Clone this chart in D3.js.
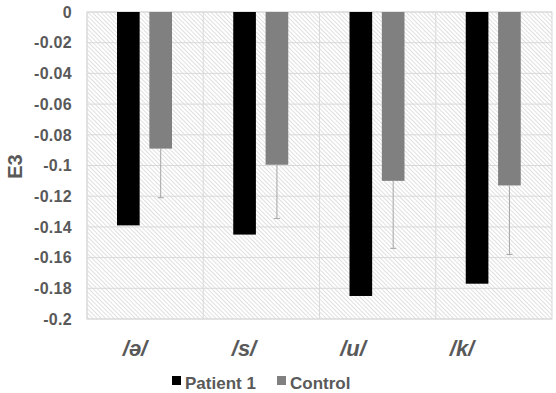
<!DOCTYPE html>
<html>
<head>
<meta charset="utf-8">
<script src="https://cdn.jsdelivr.net/npm/d3@7"></script>
<style>
  body { margin: 0; background: #fff; }
  text { font-family: Arial, "Liberation Sans", sans-serif; }
</style>
</head>
<body>
<div id="chart"></div>
<script>
// data
var categories = ["/ə/", "/s/", "/u/", "/k/"];
var seriesNames = ["Patient 1", "Control"];
var patientValues = [-0.139, -0.145, -0.185, -0.177];
var controlValues = [-0.089, -0.0995, -0.110, -0.113];
var controlErrors = [0.032, 0.035, 0.044, 0.045];
var yTicks = [0, -0.02, -0.04, -0.06, -0.08, -0.1, -0.12, -0.14, -0.16, -0.18, -0.2];
var yTickLabels = ["0", "-0.02", "-0.04", "-0.06", "-0.08", "-0.1", "-0.12", "-0.14", "-0.16", "-0.18", "-0.2"];

var width = 556, height = 393;
var margin = {top: 12, right: 4, bottom: 74, left: 87};
var innerW = width - margin.left - margin.right;
var innerH = height - margin.top - margin.bottom;
var colors = ["#000000", "#808080"];

var svg = d3.select("#chart").append("svg")
	.attr("width", width)
	.attr("height", height);

// hatched plot background
var defs = svg.append("defs");
var pat = defs.append("pattern")
	.attr("id", "hatch")
	.attr("patternUnits", "userSpaceOnUse")
	.attr("width", 3)
	.attr("height", 3)
	.attr("patternTransform", "rotate(-45)");
pat.append("rect").attr("width", 3).attr("height", 3).attr("fill", "#ffffff");
pat.append("line")
	.attr("x1", 0).attr("y1", 0).attr("x2", 0).attr("y2", 3)
	.attr("stroke", "#cfcfcf")
	.attr("stroke-width", 1.3);

var g = svg.append("g").attr("transform", "translate(" + margin.left + "," + margin.top + ")");

var y = d3.scaleLinear().domain([0, -0.2]).range([0, innerH]);
var x0 = d3.scaleBand().domain(categories).range([0, innerW]).padding(0);
var x1 = d3.scaleBand().domain(seriesNames).range([30, 85]).paddingInner(0.3);

g.append("rect")
	.attr("width", innerW)
	.attr("height", innerH)
	.attr("fill", "url(#hatch)")
	.attr("stroke", "#d9d9d9");

// horizontal grid
g.selectAll(".hgrid")
	.data(yTicks)
	.enter().append("line")
	.attr("x1", 0).attr("x2", innerW)
	.attr("y1", function(d) { return y(d); })
	.attr("y2", function(d) { return y(d); })
	.attr("stroke", "#d9d9d9")
	.attr("stroke-width", 1);

// vertical category separators
g.selectAll(".vgrid")
	.data(categories)
	.enter().append("line")
	.attr("x1", function(d) { return x0(d); })
	.attr("x2", function(d) { return x0(d); })
	.attr("y1", 0).attr("y2", innerH)
	.attr("stroke", "#d9d9d9");

// y tick labels, placed with the y scale
g.selectAll(".ytick")
	.data(yTicks)
	.enter().append("text")
	.attr("class", "ytick")
	.attr("x", -15)
	.attr("y", function(d) { return y(d); })
	.attr("dy", "0.36em")
	.attr("text-anchor", "end")
	.attr("font-size", 16)
	.attr("font-weight", "bold")
	.attr("letter-spacing", 0.3)
	.attr("fill", "#595959")
	.text(function(d, i) { return yTickLabels[i]; });

svg.append("text")
	.attr("transform", "translate(22," + (margin.top + innerH / 2 + 1) + ") rotate(-90)")
	.attr("text-anchor", "middle")
	.attr("font-size", 20)
	.attr("font-weight", "bold")
	.attr("fill", "#595959")
	.text("E3");

// bars
var rows = categories.map(function(c, i) {
	return {cat: c, vals: [patientValues[i], controlValues[i]], err: controlErrors[i]};
});

var groups = g.selectAll(".grp")
	.data(rows)
	.enter().append("g")
	.attr("transform", function(d) { return "translate(" + x0(d.cat) + ",0)"; });

groups.selectAll("rect")
	.data(function(d) { return d.vals.map(function(v, j) { return {name: seriesNames[j], v: v, j: j}; }); })
	.enter().append("rect")
	.attr("x", function(d) { return x1(d.name); })
	.attr("y", y(0))
	.attr("width", x1.bandwidth())
	.attr("height", function(d) { return y(d.v) - y(0); })
	.attr("fill", function(d) { return colors[d.j]; });

// error bars on Control
groups.each(function(d) {
	var cx = x1("Control") + x1.bandwidth() / 2;
	var sel = d3.select(this);
	sel.append("line")
		.attr("x1", cx).attr("x2", cx)
		.attr("y1", y(d.vals[1])).attr("y2", y(d.vals[1] - d.err))
		.attr("stroke", "#a6a6a6").attr("stroke-width", 1);
	sel.append("line")
		.attr("x1", cx - 3).attr("x2", cx + 3)
		.attr("y1", y(d.vals[1] - d.err)).attr("y2", y(d.vals[1] - d.err))
		.attr("stroke", "#a6a6a6").attr("stroke-width", 1);
});

// category labels
var xLab = d3.scaleBand().domain(categories).range([-6.5, 429.5]);
g.selectAll(".xlab")
	.data(categories)
	.enter().append("text")
	.attr("x", function(d) { return xLab(d) + xLab.bandwidth() / 2; })
	.attr("y", innerH + 37)
	.attr("text-anchor", "middle")
	.attr("font-size", 22)
	.attr("font-weight", "bold")
	.attr("font-style", "italic")
	.attr("fill", "#595959")
	.text(function(d) { return d; });

// legend
var legendX = [172, 277];
var legend = svg.selectAll(".leg")
	.data(seriesNames)
	.enter().append("g")
	.attr("transform", function(d, i) { return "translate(" + legendX[i] + ",376)"; });
legend.append("rect")
	.attr("width", 9).attr("height", 9)
	.attr("fill", function(d, i) { return colors[i]; });
legend.append("text")
	.attr("x", 13).attr("y", 13)
	.attr("font-size", 17)
	.attr("font-weight", "bold")
	.attr("fill", "#595959")
	.text(function(d) { return d; });
</script>
</body>
</html>
